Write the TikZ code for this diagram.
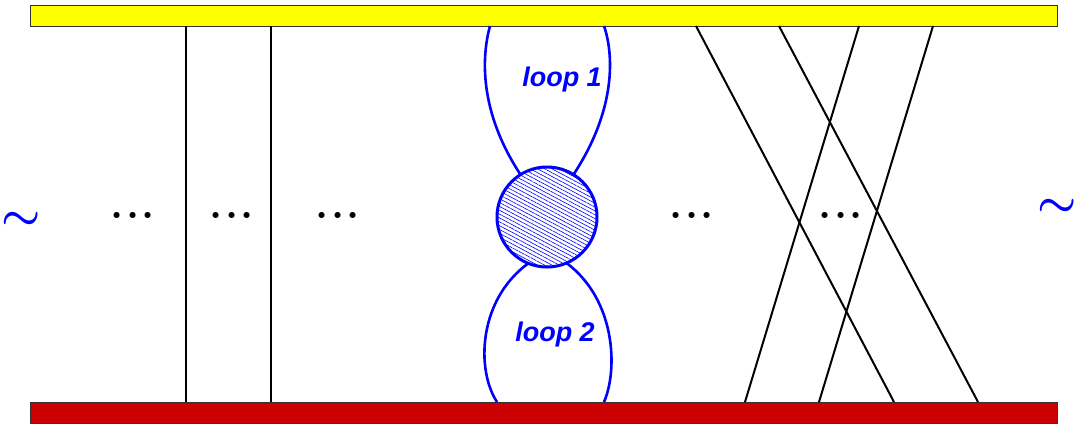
\RequirePackage{fix-cm}
\documentclass[tikz,border=0pt]{standalone}
\usepackage{fontspec}
\usetikzlibrary{patterns.meta}
\newfontfamily\labfont{Liberation Sans}
\definecolor{barred}{RGB}{204,0,0}
\definecolor{baryellow}{RGB}{255,255,0}
\newcommand{\mydots}{.\kern2.4pt.\kern2.4pt.}
\begin{document}
\begin{tikzpicture}[x=1pt,y=-1pt,
  bar/.style={draw=black!80, line width=1pt, minimum width=1027pt, minimum height=21pt, inner sep=0pt, outer sep=0pt},
  wire/.style={black, line width=2pt},
  loopline/.style={blue, line width=2.6pt},
  blob/.style={circle, draw=blue, line width=3pt, minimum size=100pt, inner sep=0pt, outer sep=0pt,
     pattern={Lines[angle=-28, distance=3.4pt, line width=0.6pt]}, pattern color=blue},
  looplabel/.style={text=blue, font=\labfont\fontsize{27}{27}\selectfont\bfseries\itshape, inner sep=0pt},
  dots/.style={font=\fontsize{42}{42}\selectfont\bfseries, inner sep=0pt, anchor=base},
  tildemark/.style={text=blue, font=\fontsize{44}{44}\selectfont\boldmath, inner sep=0pt}]
\useasboundingbox (0,0) rectangle (1076,426);
\node[bar, fill=baryellow] (top) at (543.5,15.5) {};
\node[bar, fill=barred] (bot) at (543.5,412.5) {};
% vertical wires
\foreach \n/\x in {v1/186, v2/271} {
  \coordinate (\n t) at (\x,26);
  \coordinate (\n b) at (\x,402);
  \draw[wire] (\n t) -- (\n b);
}
% crossing wires
\foreach \n/\xt/\xb in {a/696/894, b/779/978, c/859/745, d/933/819} {
  \coordinate (\n t) at (\xt,26);
  \coordinate (\n b) at (\xb,402);
  \draw[wire] (\n t) -- (\n b);
}
% blob and loops
\node[blob] (blob) at (547,217) {};
\coordinate (l1a) at (490,26);
\coordinate (l1b) at (604,26);
\coordinate (l2a) at (497,402);
\coordinate (l2b) at (604,402);
\draw[loopline] (blob.122) .. controls (478,110) and (482,55) .. (l1a);
\draw[loopline] (blob.58) .. controls (616,110) and (614,55) .. (l1b);
\draw[loopline] (blob.-112) .. controls (478,300) and (476,370) .. (l2a);
\draw[loopline] (blob.-67) .. controls (616,300) and (618,370) .. (l2b);
\node[looplabel] (lab1) at (562,80) {loop 1};
\node[looplabel] (lab2) at (555,335) {loop 2};
% dots
\foreach \n/\x in {d1/133, d2/232, d3/338, d4/692, d5/841}
  \node[dots] (\n) at (\x,218) {\mydots};
% tildes
\node[tildemark] (tl) at (21,221) {$\sim$};
\node[tildemark] (tr) at (1057,208) {$\sim$};
\end{tikzpicture}
\end{document}
